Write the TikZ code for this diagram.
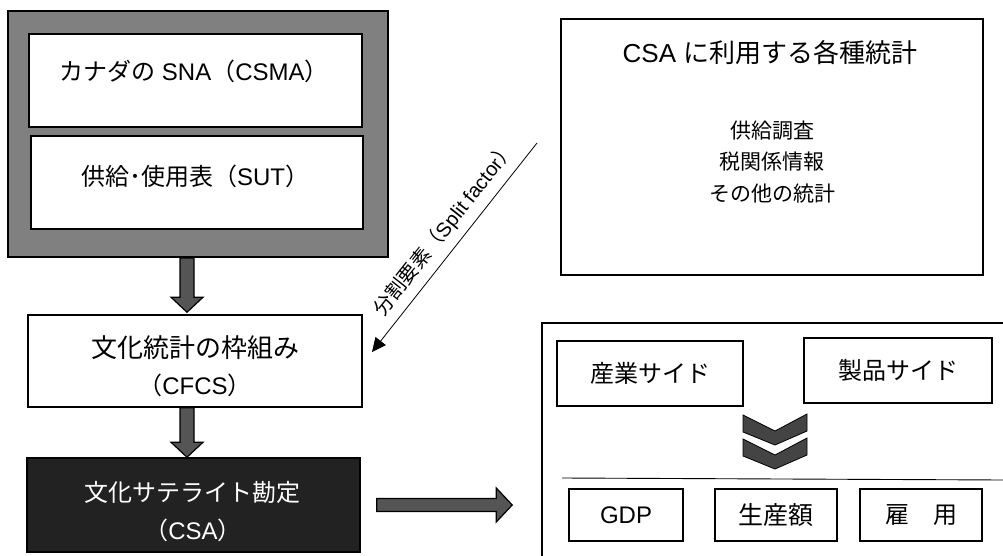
\documentclass[tikz,border=0pt]{standalone}
\usepackage{fontspec}
\setmainfont{Liberation Sans}
\newfontfamily\jp{Noto Sans CJK JP}
\usetikzlibrary{calc,arrows.meta}
\definecolor{outergray}{HTML}{808080}
\definecolor{arrowgray}{HTML}{555555}
\definecolor{darkbox}{HTML}{222222}
\definecolor{chevgray}{HTML}{444444}
\newcommand\myfs[2]{\fontsize{#1}{#2}\selectfont}
\begin{document}
\begin{tikzpicture}[x=1pt,y=-1pt,
  box/.style={draw=black,line width=1.5pt,fill=white,inner sep=0pt},
  txt/.style={inner sep=0pt,align=center},
  barrow/.style={draw=black,line width=1.2pt,fill=arrowgray},
  chev/.style={draw=black,line width=0.8pt,fill=chevgray},
]
\useasboundingbox (0,0) rectangle (1003,556);
\fill[white] (0,0) rectangle (1003,556);

% left column
\node[box,draw=black,line width=2pt,fill=outergray,minimum width=380pt,minimum height=246pt] (outer) at (198,134) {};
\node[box,minimum width=333pt,minimum height=93pt] (b1) at (195.5,80.5) {};
\node[txt,font=\myfs{24}{28}] (t1) at (194,71) {{\jp カナダの} SNA{\jp （}CSMA{\jp ）}};
\node[box,minimum width=332pt,minimum height=93pt] (b2) at (197,182.5) {};
\node[txt,font=\myfs{24}{28}] (t2) at (195,176) {{\jp 供給･使用表（}SUT{\jp ）}};

\node[box,minimum width=334pt,minimum height=92pt] (cfcs) at (195,361) {};
\node[txt] (tc1) at (195,348) {\myfs{26}{30}\jp 文化統計の枠組み};
\node[txt,font=\myfs{24}{28}] (tc2) at (195,385) {{\jp （}CFCS{\jp ）}};

\node[box,fill=darkbox,minimum width=333pt,minimum height=94pt] (csa) at (193.5,505) {};
\node[txt,text=white] (ts1) at (192,492) {\myfs{24}{28}\jp 文化サテライト勘定};
\node[txt,text=white,font=\myfs{24}{28}] (ts2) at (193,530) {{\jp （}CSA{\jp ）}};

% block down arrows
\coordinate (ax) at (187,0);
\draw[barrow] ($(ax|-outer.south)+(-7,0)$) -- ($(ax|-cfcs.north)+(-7,-17)$) -- ($(ax|-cfcs.north)+(-16,-17)$)
  -- ($(ax|-cfcs.north)+(0,-2)$) -- ($(ax|-cfcs.north)+(16,-17)$) -- ($(ax|-cfcs.north)+(7,-17)$)
  -- ($(ax|-outer.south)+(7,0)$) -- cycle;
\draw[barrow] ($(ax|-cfcs.south)+(-7,0)$) -- ($(ax|-csa.north)+(-7,-15)$) -- ($(ax|-csa.north)+(-16,-15)$)
  -- ($(ax|-csa.north)+(0,0)$) -- ($(ax|-csa.north)+(16,-15)$) -- ($(ax|-csa.north)+(7,-15)$)
  -- ($(ax|-cfcs.south)+(7,0)$) -- cycle;

% top right statistics box
\node[box,minimum width=422pt,minimum height=256pt] (stats) at (772,147) {};
\node[txt,font=\myfs{26}{30}] (st) at (770,53) {CSA {\jp に利用する各種統計}};
\node[txt,font=\myfs{21}{31.5}\jp] (sl) at (772,162) {供給調査\\税関係情報\\その他の統計};

% split factor arrow
\coordinate (sfA) at (537,143);
\coordinate (sfB) at (372,352);
\draw[line width=0.8pt,-{Triangle[length=14pt,width=13pt]}] (sfA) -- node[sloped,above=8pt,pos=0.47,inner sep=0pt,font=\myfs{20}{24}] (sfl) {{\jp 分割要素（}Split factor{\jp ）}} (sfB);

% bottom right box (extends beyond page)
\node[box,minimum width=478pt,minimum height=257pt] (rbox) at (781,451.5) {};
\node[box,minimum width=186pt,minimum height=65pt,font=\myfs{24}{28}\jp] (ind) at (650,373.5) {産業サイド};
\node[box,minimum width=188pt,minimum height=65pt,font=\myfs{24}{28}\jp] (prod) at (898,370.5) {製品サイド};

\coordinate (n1) at (775,431);
\coordinate (n2) at (775,455);
\foreach \n in {n1,n2}{
  \draw[chev] ($(\n)+(-32,-16)$) -- (\n) -- ($(\n)+(32,-17)$) -- ($(\n)+(32,0)$) -- ($(\n)+(0,14)$) -- ($(\n)+(-32,1)$) -- cycle;
}
\coordinate (hlA) at (562,478);
\coordinate (hlB) at (1003,480);
\draw[line width=0.9pt] (hlA) -- (hlB);

\node[box,minimum width=114pt,minimum height=52pt,font=\myfs{24}{28}] (gdp) at (626,515) {GDP};
\node[box,minimum width=122pt,minimum height=52pt,font=\myfs{25}{28}\jp] (outp) at (776,515) {生産額};
\node[box,minimum width=122pt,minimum height=52pt,font=\myfs{24}{28}\jp] (emp) at (921,515) {雇　用};

% right block arrow
\draw[barrow] ($(csa.east)+(16,-6.5)$) -- ($(rbox.west|-csa.east)+(-45,-6.5)$) -- ($(rbox.west|-csa.east)+(-45,-17)$)
  -- ($(rbox.west|-csa.east)+(-29,0)$) -- ($(rbox.west|-csa.east)+(-45,17)$) -- ($(rbox.west|-csa.east)+(-45,6.5)$)
  -- ($(csa.east)+(16,6.5)$) -- cycle;
\end{tikzpicture}
\end{document}
